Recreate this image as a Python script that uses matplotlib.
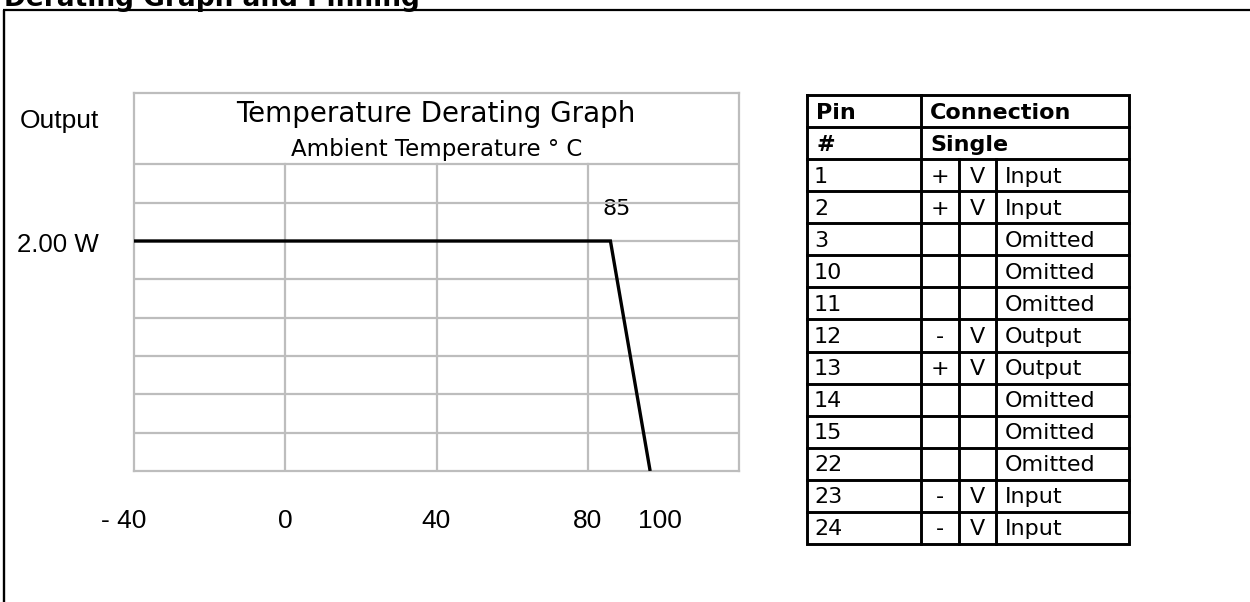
import numpy as np
import matplotlib
matplotlib.use("Agg")
import matplotlib.pyplot as plt

plt.rcParams['font.family'] = ['DejaVu Sans']
ARIAL = ['Liberation Sans', 'DejaVu Sans']

# derating curve (ambient temperature in deg C, output in W)
temp_c = [-40, 86, 96.5]
power_w = [2.0, 2.0, 0.0]
x_ticks = [-40, 0, 40, 80, 100]
x_tick_labels = ["- 40", "0", "40", "80", "100"]

# pinning table
pin_no = ["1", "2", "3", "10", "11", "12", "13", "14", "15", "22", "23", "24"]
pin_sign = ["+", "+", "", "", "", "-", "+", "", "", "", "-", "-"]
pin_v = ["V", "V", "", "", "", "V", "V", "", "", "", "V", "V"]
pin_func = ["Input", "Input", "Omitted", "Omitted", "Omitted", "Output", "Output",
            "Omitted", "Omitted", "Omitted", "Input", "Input"]

W, H = 1250, 602
fig = plt.figure(figsize=(W / 100, H / 100), dpi=100)

# canvas axes in pixel coords for frame, text, table
bg = fig.add_axes([0, 0, 1, 1])
bg.set_xlim(0, W)
bg.set_ylim(H, 0)
bg.axis("off")

# outer frame (only left and top visible)
bg.plot([3.5, 3.5], [10, H + 5], color="black", lw=1.7, solid_capstyle="butt")
bg.plot([2.7, W + 5], [10, 10], color="black", lw=1.6, solid_capstyle="butt")
bg.text(4, 6, "Derating Graph and Pinning", fontsize=19, fontweight="bold",
        va="baseline", ha="left")

# graph
gx0, gx1, gy0, gy1 = 134, 739, 93, 471
ax = fig.add_axes([gx0 / W, 1 - gy1 / H, (gx1 - gx0) / W, (gy1 - gy0) / H])
ax.set_facecolor("none")
ax.set_xlim(-40, 120)
ax.set_ylim(0, 3.287)
grid_col = "#bdbdbd"
for y in np.arange(1, 9) / 3:
    ax.axhline(y, color=grid_col, lw=1.6, zorder=1)
for x in [0, 40, 80]:
    ax.plot([x, x], [0, 8 / 3], color=grid_col, lw=1.6, zorder=1)
for s in ax.spines.values():
    s.set_color(grid_col)
    s.set_linewidth(1.6)
ax.set_xticks([])
ax.set_yticks([])
ax.plot(temp_c, power_w, color="black", lw=2.4, zorder=3,
        solid_joinstyle="miter", solid_capstyle="butt")

bg.text(436, 122, "Temperature Derating Graph", fontsize=20, ha="center", va="baseline")
bg.text(437, 156, "Ambient Temperature \u00b0 C", fontsize=16.5, ha="center", va="baseline")
bg.text(617, 215, "85", fontsize=16, ha="center", va="baseline")

bg.text(59, 128, "Output", fontsize=19, ha="center", va="baseline", family=ARIAL)
bg.text(58, 252, "2.00 W", fontsize=18.6, ha="center", va="baseline", family=ARIAL)
for t, lab in zip(x_ticks, x_tick_labels):
    px = gx0 + (t + 40) / 160 * (gx1 - gx0)
    if lab.startswith("-"):
        px -= 10
    if t == 100:
        px -= 3
    bg.text(px, 528, lab, fontsize=19, ha="center", va="baseline", family=ARIAL)

# table
tx = [807, 921, 959, 996, 1129]
ty0, rh = 95, 32.07
nrows = 2 + len(pin_no)
ty1 = ty0 + nrows * rh
lw_t = 2.1
bg.plot([tx[0], tx[-1], tx[-1], tx[0], tx[0]], [ty0, ty0, ty1, ty1, ty0],
        color="black", lw=lw_t, solid_joinstyle="miter")
for i in range(1, nrows):
    bg.plot([tx[0], tx[-1]], [ty0 + i * rh] * 2, color="black", lw=lw_t)
bg.plot([tx[1], tx[1]], [ty0, ty1], color="black", lw=lw_t)
for c in (tx[2], tx[3]):
    bg.plot([c, c], [ty0 + 2 * rh, ty1], color="black", lw=lw_t)

fs_t = 16
pad = 9
off = 7.5  # baseline offset below row centre
bg.text(tx[0] + pad, ty0 + 0.5 * rh + off, "Pin", fontsize=fs_t, fontweight="bold", va="baseline")
bg.text(tx[1] + pad, ty0 + 0.5 * rh + off, "Connection", fontsize=fs_t, fontweight="bold", va="baseline")
bg.text(tx[0] + pad, ty0 + 1.5 * rh + off, "#", fontsize=fs_t, fontweight="bold", va="baseline")
bg.text(tx[1] + pad, ty0 + 1.5 * rh + off, "Single", fontsize=fs_t, fontweight="bold", va="baseline")
for i, (p, s, v, f) in enumerate(zip(pin_no, pin_sign, pin_v, pin_func)):
    yb = ty0 + (i + 2.5) * rh + off
    bg.text(tx[0] + pad - 2, yb, p, fontsize=fs_t, va="baseline")
    bg.text((tx[1] + tx[2]) / 2, yb, s, fontsize=fs_t, va="baseline", ha="center")
    bg.text((tx[2] + tx[3]) / 2, yb, v, fontsize=fs_t, va="baseline", ha="center")
    bg.text(tx[3] + pad, yb, f, fontsize=fs_t, va="baseline")

fig.savefig("out.png", dpi=100)
